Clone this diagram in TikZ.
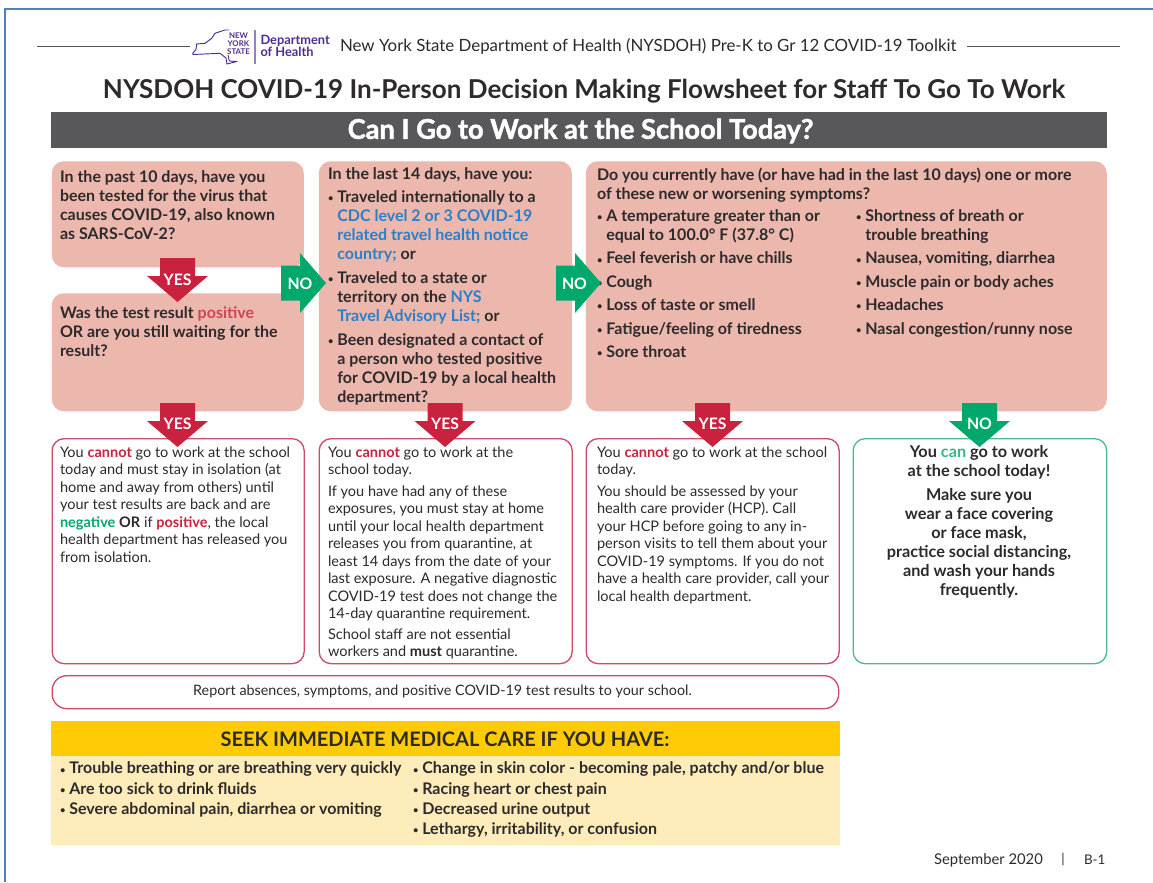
\documentclass[tikz,border=0pt]{standalone}
\usepackage{fontspec}
\setmainfont{Lato}
\newfontfamily\heavyf[BoldFeatures={FakeBold=1.6}]{Lato}
\definecolor{pinkbox}{HTML}{ECB8AE}
\definecolor{redc}{HTML}{C8223F}
\definecolor{greenc}{HTML}{00A86B}
\definecolor{redline}{HTML}{CF4A63}
\definecolor{greenline}{HTML}{4DBB8E}
\definecolor{bluec}{HTML}{2A7FC9}
\definecolor{grayban}{HTML}{58585A}
\definecolor{ink}{HTML}{2D2A2B}
\definecolor{purp}{HTML}{4F2D8F}
\definecolor{yel}{HTML}{FFCB05}
\definecolor{paley}{HTML}{FEEDBB}
\definecolor{frameb}{HTML}{4F81BD}
\newcommand\fs[2]{\fontsize{#1}{#2}\selectfont}
\newcommand\rd[1]{\textcolor{redc}{\textbf{#1}}}
\newcommand\bl[1]{\textcolor{bluec}{#1}}
\newcommand\gb[1]{\textcolor{greenc}{\textbf{#1}}}
\newcommand\bu{\makebox[7pt][l]{\raisebox{0.6pt}{\fs{7}{7}\textbullet}}}
\newcommand\nb{\hspace*{7pt}}
\tikzset{
  pinkb/.style={fill=pinkbox,draw=none,rounded corners=9pt},
  redb/.style={draw=redline,line width=1pt,fill=white,rounded corners=9pt},
  greenb/.style={draw=greenline,line width=1pt,fill=white,rounded corners=9pt},
  txt/.style={anchor=north west,inner sep=0pt,outer sep=0pt,align=left,text=ink},
  qtxt/.style={txt,font=\fs{12}{14.25}\bfseries},
  wtxt/.style={txt,font=\fs{12}{17.55}\bfseries},
  btxt/.style={txt,font=\fs{10.9}{13.1}},
  ctxt/.style={txt,anchor=north,align=center,font=\fs{12.2}{14.25}\bfseries},
  ltxt/.style={txt,font=\fs{12}{15.2}\bfseries},
  arrlab/.style={text=white,font=\fs{11.8}{13}\bfseries,inner sep=0pt},
  hline/.style={draw=ink!80,line width=0.7pt},
}
\newcommand\bx[6]{\node[#2,inner sep=0pt,minimum width={(#5-#3)*0.75pt},minimum height={(#6-#4)*0.75pt},anchor=north west] (#1) at (#3,#4) {};}
\newcommand\myD[3]{% cx, top, colour
  \fill[#3] (#1-17.5,#2) -- (#1+17.5,#2) -- (#1+17.5,#2+18) -- (#1+30.5,#2+18) -- (#1,#2+44) -- (#1-30.5,#2+18) -- (#1-17.5,#2+18) -- cycle;}
\newcommand\myR[3]{% left, cy, colour
  \fill[#3] (#1,#2-17.5) -- (#1+19,#2-17.5) -- (#1+19,#2-30) -- (#1+45,#2) -- (#1+19,#2+30) -- (#1+19,#2+17.5) -- (#1,#2+17.5) -- cycle;}
\begin{document}
\begin{tikzpicture}[x=0.75pt,y=-0.75pt]
\useasboundingbox (0,0) rectangle (1153,882);
\fill[white] (0,0) rectangle (1153,882);
% frame
\draw[frameb,line width=1.5pt] (4.5,882) -- (4.5,8.5) -- (1153,8.5);
% header rules
\coordinate (hl1) at (37,46); \coordinate (hl2) at (190,46);
\coordinate (hr1) at (967,46); \coordinate (hr2) at (1120,46);
\draw[hline] (hl1) -- (hl2);
\draw[hline] (hr1) -- (hr2);
% logo
\draw[purp,line width=0.7pt,line join=round] (229,30) -- (225,30) -- (215,33.3) -- (211.7,38.3) -- (205,43.3) -- (196.7,44) -- (196,49.3) -- (192.7,53.3) -- (193,54.5) -- (220,53.3) -- (226,58) -- (227,64) -- (237,61.5) -- (229.3,61) -- (228,55);
\node[inner sep=0.3pt,fill=white,text=purp,font=\fs{5.9}{6}\bfseries,align=center] (logo) at (238.5,44) {NEW\\YORK\\STATE};
\coordinate (lg1) at (255,30); \coordinate (lg2) at (255,64);
\draw[purp!60,line width=0.8pt] (lg1) -- (lg2);
\node[txt,text=purp,font=\fs{9.6}{9}\bfseries] (dept) at (260.5,35) {Department\\of Health};
\node[txt,anchor=west,font=\fs{12.65}{14}] (hdr) at (340,46.5) {New York State Department of Health (NYSDOH) Pre-K to Gr 12 COVID-19 Toolkit};
\node[txt,anchor=center,font=\fs{19.5}{22}\bfseries] (title) at (584,91) {NYSDOH COVID-19 In-Person Decision Making Flowsheet for Staff To Go To Work};
% banner
\bx{banner}{fill=grayban}{51}{112}{1107}{148}
\node[anchor=center,inner sep=0pt,text=white,font=\heavyf\fs{20.4}{22}\bfseries] (bantxt) at (580.5,131) {Can I Go to Work at the School Today?};
% question boxes
\bx{qa}{pinkb}{51.5}{161}{303.5}{267}
\bx{qb}{pinkb}{51.5}{293}{303.5}{411}
\bx{qc}{pinkb}{318.5}{161}{571.5}{411}
\bx{qd}{pinkb}{585.5}{161}{1106.5}{411}
% outcome boxes
\bx{oa}{redb}{51.5}{438}{303.5}{663}
\bx{ob}{redb}{318.5}{438}{571.5}{663}
\bx{oc}{redb}{585.5}{438}{838.5}{663}
\bx{od}{greenb}{852.5}{438}{1106}{663}
\bx{rep}{redb,rounded corners=11pt}{51.5}{675}{838}{708}
\node[anchor=center,inner sep=0pt,text=ink,font=\fs{10.75}{13}] (reptxt) at (442.5,691) {Report absences, symptoms, and positive COVID-19 test results to your school.};
% medical care
\bx{seek}{fill=yel}{51}{721}{840}{756}
\bx{seekb}{fill=paley}{51}{756}{840}{845}
\node[anchor=center,inner sep=0pt,text=ink,font=\fs{15}{16}\bfseries] (seektxt) at (445,739.5) {SEEK IMMEDIATE MEDICAL CARE IF YOU HAVE:};
% question text
\node[qtxt] (ta) at (60,170.5) {In the past 10 days, have you\\been tested for the virus that\\causes COVID-19, also known\\as SARS-CoV-2?};
\node[qtxt] (tb) at (60,306.5) {Was the test result \textcolor{redc!85}{positive}\\OR are you still waiting for the\\result?};
\node[qtxt] (tc0) at (328,167.5) {In the last 14 days, have you:};
\node[qtxt] (tc1) at (328,190.5) {\bu Traveled internationally to a\\\nb\bl{CDC level 2 or 3 COVID-19}\\\nb\bl{related travel health notice}\\\nb\bl{country;} or};
\node[qtxt] (tc2) at (328,271.5) {\bu Traveled to a state or\\\nb territory on the \bl{NYS}\\\nb\bl{Travel Advisory List;} or};
\node[qtxt] (tc3) at (328,333.5) {\bu Been designated a contact of\\\nb a person who tested positive\\\nb for COVID-19 by a local health\\\nb department?};
\node[qtxt] (td0) at (597,167.5) {Do you currently have (or have had in the last 10 days) one or more\\of these new or worsening symptoms?};
\node[qtxt] (td1) at (597,209.5) {\bu A temperature greater than or\\\nb equal to 100.0° F (37.8° C)};
\node[wtxt] (td2) at (597,252) {\bu Feel feverish or have chills\\\bu Cough\\\bu Loss of taste or smell\\\bu Fatigue/feeling of tiredness\\\bu Sore throat};
\node[qtxt] (te1) at (856,209.5) {\bu Shortness of breath or\\\nb trouble breathing};
\node[wtxt] (te2) at (856,252) {\bu Nausea, vomiting, diarrhea\\\bu Muscle pain or body aches\\\bu Headaches\\\bu Nasal congestion/runny nose};
% outcome text
\node[btxt] (ua) at (60,446.5) {You \rd{cannot} go to work at the school\\today and must stay in isolation (at\\home and away from others) until\\your test results are back and are\\\gb{negative} \textbf{OR} if \rd{positive}, the local\\health department has released you\\from isolation.};
\node[btxt] (ub1) at (328,446.5) {You \rd{cannot} go to work at the\\school today.};
\node[btxt] (ub2) at (328,485.5) {If you have had any of these\\exposures, you must stay at home\\until your local health department\\releases you from quarantine, at\\least 14 days from the date of your\\last exposure. A negative diagnostic\\COVID-19 test does not change the\\14-day quarantine requirement.};
\node[btxt] (ub3) at (328,628.5) {School staff are not essential\\workers and \textbf{must} quarantine.};
\node[btxt] (uc1) at (597,446.5) {You \rd{cannot} go to work at the school\\today.};
\node[btxt] (uc2) at (597,485.5) {You should be assessed by your\\health care provider (HCP). Call\\your HCP before going to any in-\\person visits to tell them about your\\COVID-19 symptoms. If you do not\\have a health care provider, call your\\local health department.};
\node[ctxt] (ud1) at (979,445.5) {You \textcolor{greenc!80}{can} go to work\\at the school today!};
\node[ctxt] (ud2) at (979,488.5) {Make sure you\\wear a face covering\\or face mask,\\practice social distancing,\\and wash your hands\\frequently.};
% medical lists
\node[ltxt] (la) at (60,762) {\bu Trouble breathing or are breathing very quickly\\\bu Are too sick to drink fluids\\\bu Severe abdominal pain, diarrhea or vomiting};
\node[ltxt] (lb) at (413,762) {\bu Change in skin color - becoming pale, patchy and/or blue\\\bu Racing heart or chest pain\\\bu Decreased urine output\\\bu Lethargy, irritability, or confusion};
% footer
\node[txt,anchor=west,font=\fs{11.1}{13}] (date) at (934,860) {September 2020};
\node[txt,anchor=center,font=\fs{10}{13}] (sep) at (1063,860) {|};
\node[txt,anchor=west,font=\fs{10}{13}] (pg) at (1084,860) {B-1};
% block arrows
\myD{177.5}{258}{redc}
\myD{177.5}{403}{redc}
\myD{445}{403}{redc}
\myD{712.5}{403}{redc}
\myD{979.5}{403}{greenc}
\myR{281}{283}{greenc}
\myR{556}{283}{greenc}
\node[arrlab] (y1) at (177.5,280) {YES};
\node[arrlab] (y2) at (177.5,423.5) {YES};
\node[arrlab] (y3) at (445,423.5) {YES};
\node[arrlab] (y4) at (712.5,423.5) {YES};
\node[arrlab] (n1) at (979.5,423.5) {NO};
\node[arrlab] (n2) at (300,283.5) {NO};
\node[arrlab] (n3) at (574.5,283.5) {NO};
\end{tikzpicture}
\end{document}
